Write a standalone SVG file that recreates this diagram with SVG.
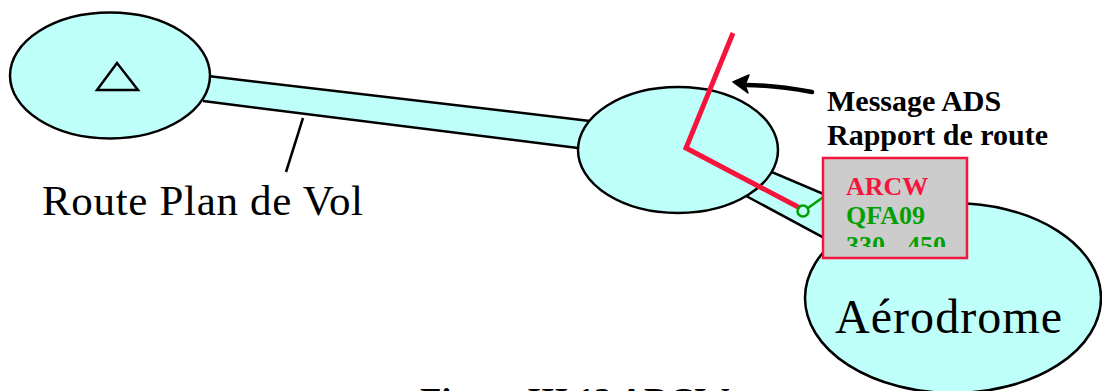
<svg xmlns="http://www.w3.org/2000/svg" width="1102" height="391" viewBox="0 0 1102 391">
<style>
.zone{fill:#bffffa;stroke:#000;stroke-width:2.5}
.band{fill:#bffffa;stroke:none}
.edge{fill:none;stroke:#000;stroke-width:2.5}
.serif{font-family:"Liberation Serif","Times New Roman",serif}
.bold{font-weight:bold}
.red{fill:#f5143c}
.green{fill:#00a000}
</style>
<defs>
<clipPath id="boxclip"><rect x="823" y="158" width="144" height="89"/></clipPath>
</defs>
<rect width="1102" height="391" fill="#fff"/>
<g id="band-route">
<polygon class="band" points="208,76 590,121 578,148 203,101"/>
<line class="edge" x1="208" y1="76" x2="590" y2="121"/>
<line class="edge" x1="203" y1="101" x2="578" y2="148"/>
</g>
<g id="band-approach">
<polygon class="band" points="760,167 880,218 880,268 735,190"/>
<line class="edge" x1="760" y1="167" x2="880" y2="218"/>
<line class="edge" x1="735" y1="190" x2="880" y2="268"/>
</g>
<g id="zone-departure">
<ellipse class="zone" cx="110" cy="75.5" rx="100" ry="63"/>
<polygon points="117,63 97,90 138,90" fill="none" stroke="#000" stroke-width="2.5"/>
</g>
<g id="zone-middle">
<ellipse class="zone" cx="678" cy="150" rx="100" ry="63"/>
</g>
<g id="zone-aerodrome">
<ellipse class="zone" cx="953" cy="298" rx="148" ry="95"/>
<text class="serif" x="835" y="333" font-size="48" textLength="227">Aérodrome</text>
</g>
<g id="label-route">
<text class="serif" x="42" y="215" font-size="43" textLength="321">Route Plan de Vol</text>
</g>
<g id="label-ads">
<text class="serif bold" x="827" y="111" font-size="30">Message ADS</text>
<text class="serif bold" x="827" y="145" font-size="30">Rapport de route</text>
</g>
<g id="connectors">
<line x1="303" y1="118" x2="286" y2="172" stroke="#000" stroke-width="2.5"/>
<polyline points="733,33 686,148 800,208" fill="none" stroke="#f5143c" stroke-width="5"/>
<path d="M812,92 C795,89 772,85 745,85" fill="none" stroke="#000" stroke-width="4.5" stroke-linecap="round"/>
<path d="M733,82 L749,75 L745,85 L748,93 Z" fill="#000" stroke="#000" stroke-width="1.5" stroke-linejoin="round"/>
<line x1="808" y1="208" x2="843" y2="183" stroke="#00a000" stroke-width="2.5"/>
<circle cx="803" cy="211" r="5.5" fill="none" stroke="#00a000" stroke-width="2.5"/>
</g>
<g id="label-arcw">
<rect x="823" y="158" width="144" height="100" fill="#cccccc" stroke="#f5143c" stroke-width="2.5"/>
<text class="serif bold red" x="846" y="195" font-size="26">ARCW</text>
<text class="serif bold green" x="846" y="224" font-size="26">QFA09</text>
<g clip-path="url(#boxclip)">
<text class="serif bold green" font-size="26" y="254"><tspan x="846">330</tspan><tspan x="907">450</tspan></text>
</g>
</g>
<g id="caption">
<text class="serif bold" x="420" y="413" font-size="35">Figure III.13 ARCW</text>
</g>
</svg>
